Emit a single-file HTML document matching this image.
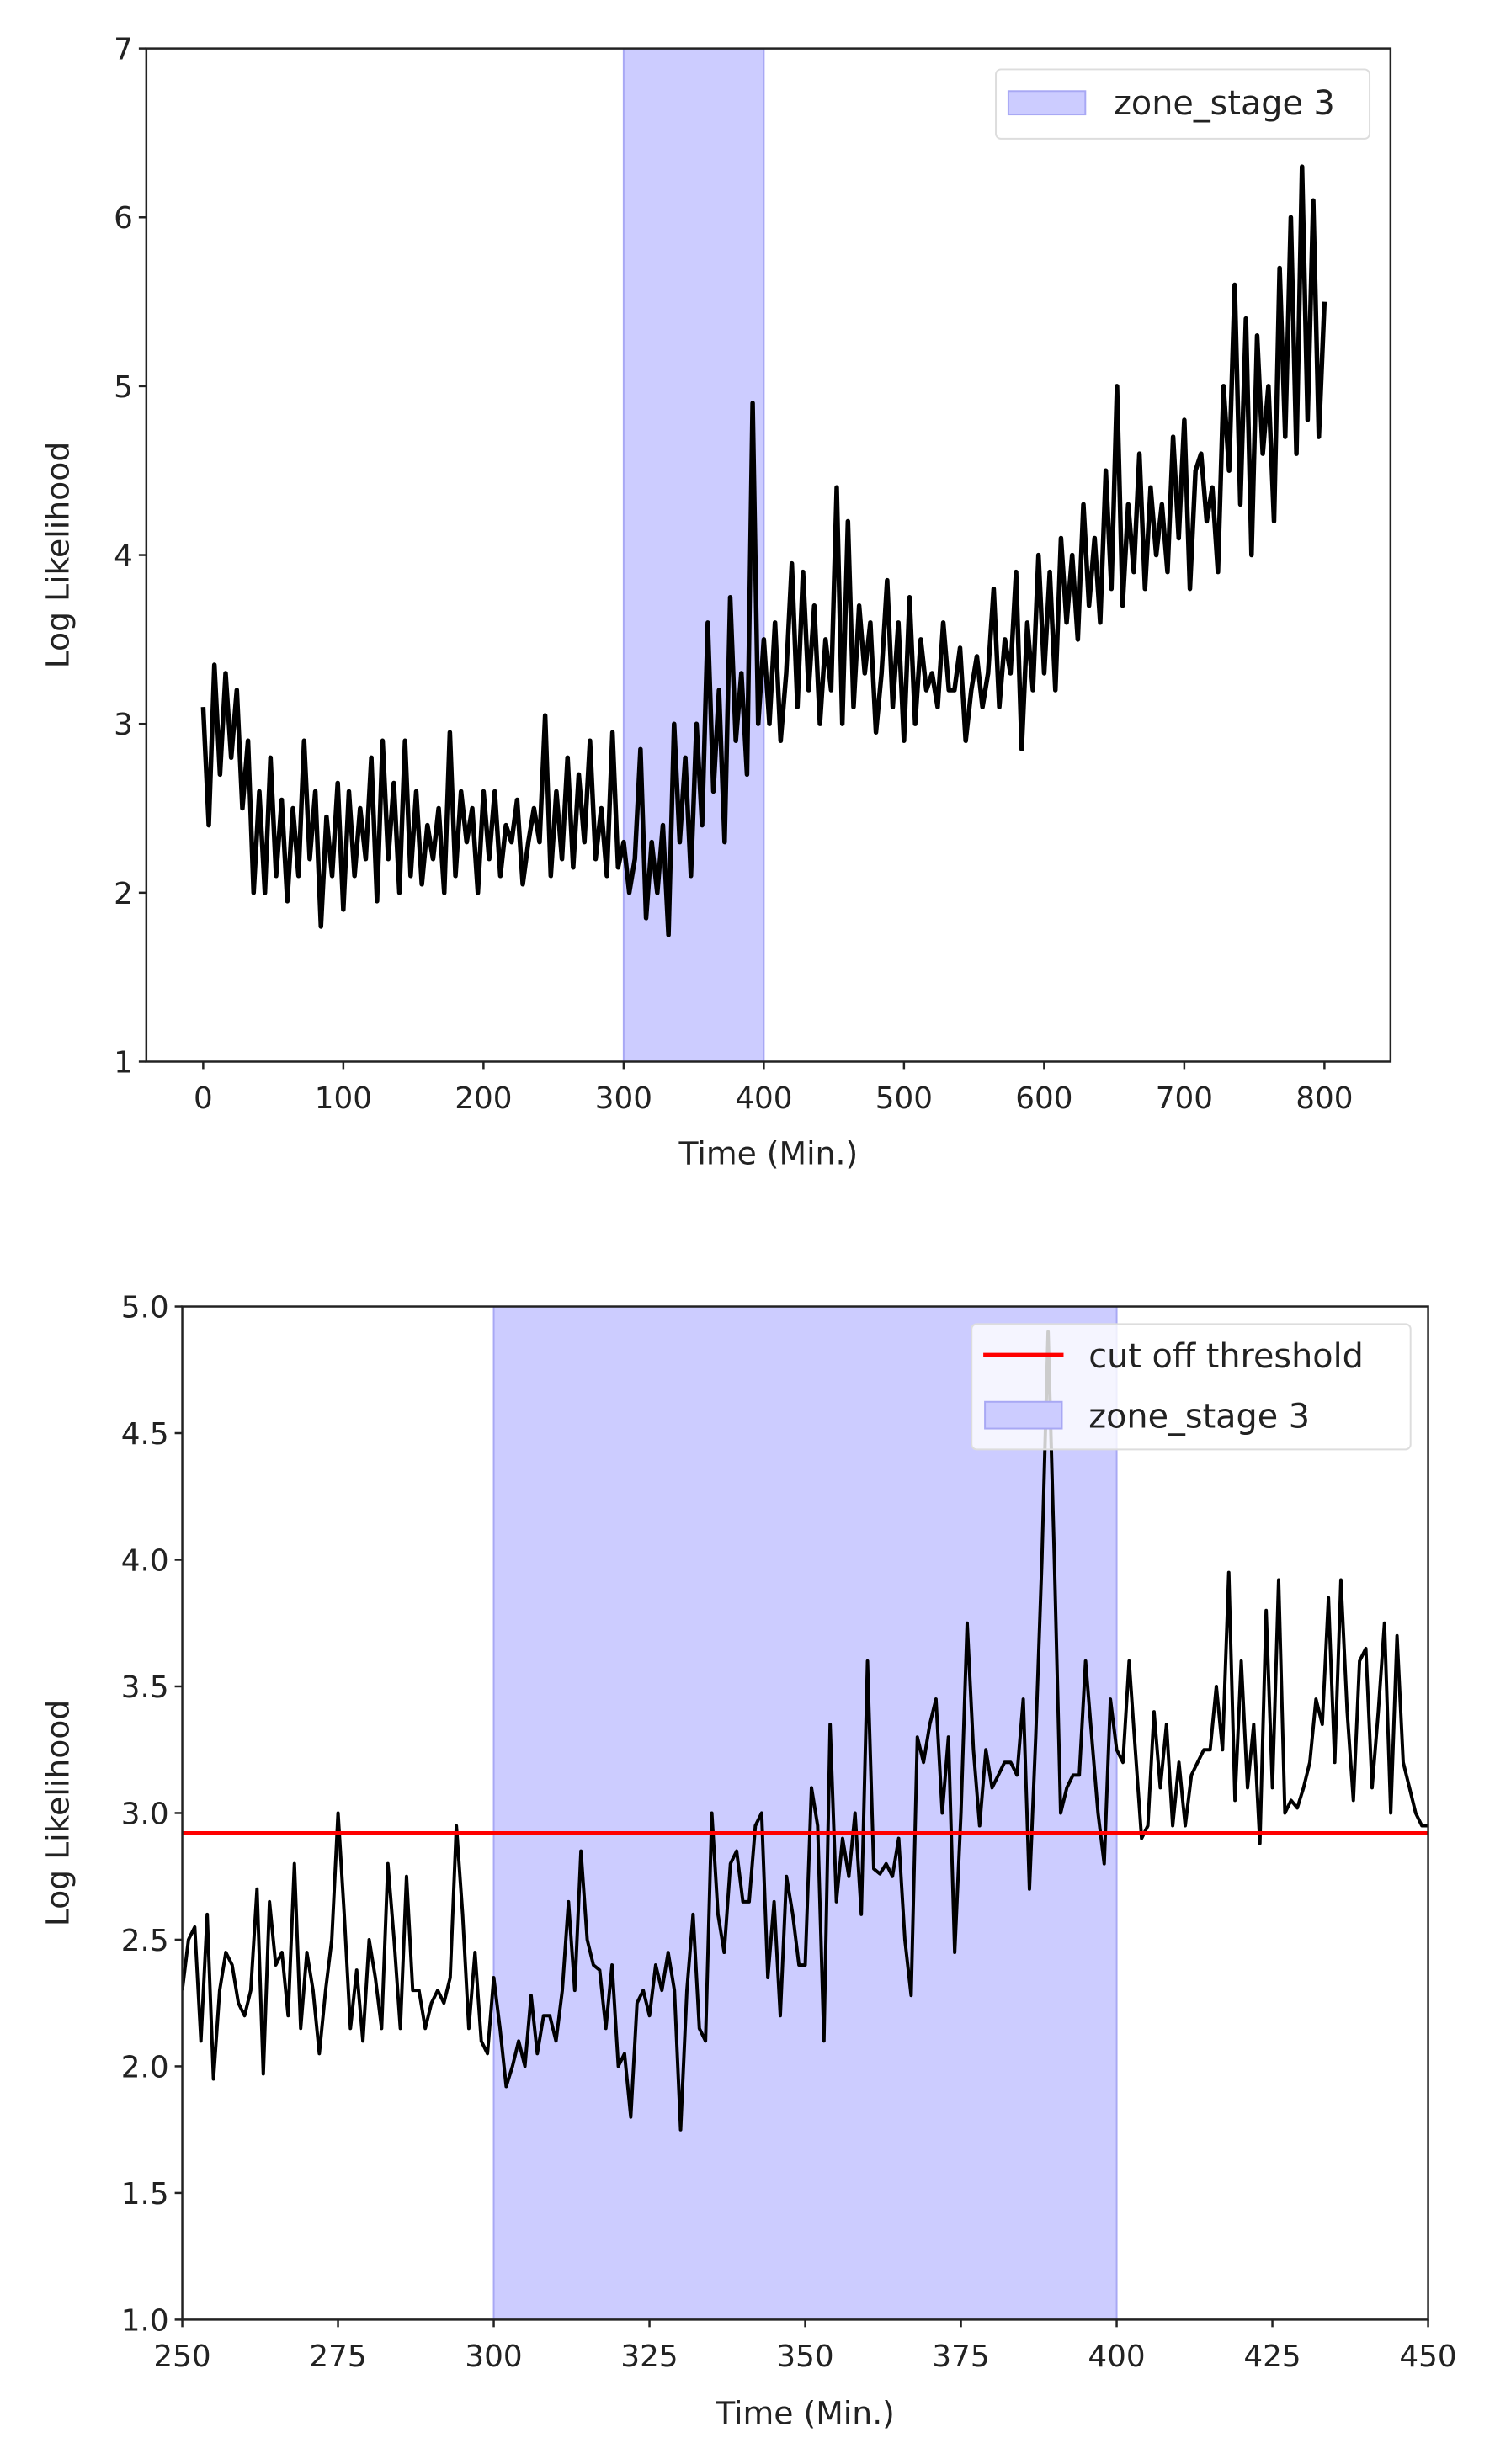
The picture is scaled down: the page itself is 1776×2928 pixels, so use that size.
<!DOCTYPE html>
<html><head><meta charset="utf-8"><style>
html,body{margin:0;padding:0;background:#fff;}
svg{display:block;font-family:"DejaVu Sans","Liberation Sans",sans-serif;}
</style></head><body>
<svg id="fig" width="1776" height="2928" viewBox="0 0 1776 2928" xmlns="http://www.w3.org/2000/svg">
<g transform="scale(0.9933)">
<g id="top"></g>
<g id="bot"></g>
</g>
</svg>
<script>
const topValues = [3.1,2.4,3.35,2.7,3.3,2.8,
3.2,2.5,2.9,2.0,2.6,2.0,2.8,2.1,2.55,1.95,2.5,2.1,2.9,2.2,2.6,1.8,2.45,2.1,2.65,1.9,
2.6,2.1,2.5,2.2,2.8,1.95,2.9,2.2,2.65,2.0,2.9,2.1,2.6,2.05,2.4,2.2,2.5,2.0,2.95,2.1,2.6,2.3,2.5,2.0,2.6,
2.2,2.6,2.1,2.4,2.3,2.55,2.05,2.3,2.5,2.3,3.05,2.1,2.6,2.2,2.8,2.15,2.7,2.3,2.9,2.2,2.5,2.1,2.95,2.15,2.3,
2.0,2.2,2.85,1.85,2.3,2.0,2.4,1.75,3.0,2.3,2.8,2.1,3.0,2.4,3.6,2.6,3.2,2.3,3.75,2.9,3.3,2.7,4.9,3.0,3.5,
3.0,3.6,2.9,3.3,3.95,3.1,3.9,3.2,3.7,3.0,3.5,3.2,4.4,3.0,4.2,3.1,3.7,3.3,3.6,2.95,3.3,3.85,3.1,3.6,2.9,
3.75,3.0,3.5,3.2,3.3,3.1,3.6,3.2,3.2,3.45,2.9,3.2,3.4,3.1,3.3,3.8,3.1,3.5,3.3,3.9,2.85,3.6,3.2,4.0,3.3,
3.9,3.2,4.1,3.6,4.0,3.5,4.3,3.7,4.1,3.6,4.5,3.8,5.0,3.7,4.3,3.9,4.6,3.8,4.4,4.0,4.3,3.9,4.7,4.1,4.8,
3.8,4.5,4.6,4.2,4.4,3.9,5.0,4.5,5.6,4.3,5.4,4.0,5.3,4.6,5.0,4.2,5.7,4.7,6.0,4.6,6.3,4.8,6.1,4.7,5.5];
const topStart = 0, topStep = 4;
const topXTicks = [0,100,200,300,400,500,600,700,800];
const topYTicks = [1,2,3,4,5,6,7];
const zoneRange = [300,400];

const botValues = [2.3,2.5,2.55,2.1,2.6,1.95,2.3,2.45,2.4,2.25,2.2,2.3,2.7,1.97,2.65,2.4,2.45,2.2,2.8,2.15,
2.45,2.3,2.05,2.3,2.5,3.0,2.6,2.15,2.38,2.1,2.5,2.35,2.15,2.8,2.5,2.15,2.75,2.3,2.3,2.15,
2.25,2.3,2.25,2.35,2.95,2.6,2.15,2.45,2.1,2.05,2.35,2.15,1.92,2.0,2.1,2.0,2.28,2.05,2.2,2.2,
2.1,2.3,2.65,2.3,2.85,2.5,2.4,2.38,2.15,2.4,2.0,2.05,1.8,2.25,2.3,2.2,2.4,2.3,2.45,2.3,
1.75,2.3,2.6,2.15,2.1,3.0,2.6,2.45,2.8,2.85,2.65,2.65,2.95,3.0,2.35,2.65,2.2,2.75,2.6,2.4,
2.4,3.1,2.95,2.1,3.35,2.65,2.9,2.75,3.0,2.6,3.6,2.78,2.76,2.8,2.75,2.9,2.5,2.28,3.3,3.2,
3.35,3.45,3.0,3.3,2.45,3.0,3.75,3.25,2.95,3.25,3.1,3.15,3.2,3.2,3.15,3.45,2.7,3.3,4.0,4.9,
4.0,3.0,3.1,3.15,3.15,3.6,3.3,3.0,2.8,3.45,3.25,3.2,3.6,3.25,2.9,2.95,3.4,3.1,3.35,2.95,
3.2,2.95,3.15,3.2,3.25,3.25,3.5,3.25,3.95,3.05,3.6,3.1,3.35,2.88,3.8,3.1,3.92,3.0,3.05,3.02,
3.1,3.2,3.45,3.35,3.85,3.2,3.92,3.4,3.05,3.6,3.65,3.1,3.4,3.75,3.0,3.7,3.2,3.1,3.0,2.95,2.95];
const botStart = 250, botStep = 1;
const botXTicks = [250,275,300,325,350,375,400,425,450];
const botYTicks = [1.0,1.5,2.0,2.5,3.0,3.5,4.0,4.5,5.0];
const threshold = [2.92];

const NS="http://www.w3.org/2000/svg";
function mk(parent,tag,attrs,text){const e=document.createElementNS(NS,tag);for(const k in attrs)e.setAttribute(k,attrs[k]);if(text!==undefined)e.textContent=text;parent.appendChild(e);return e;}

function drawChart(g,cfg){
  const sx=v=>cfg.px0+(v-cfg.xmin)/(cfg.xmax-cfg.xmin)*(cfg.px1-cfg.px0);
  const sy=v=>cfg.py1-(v-cfg.ymin)/(cfg.ymax-cfg.ymin)*(cfg.py1-cfg.py0);
  const L=cfg.L,R=cfg.R,T=cfg.T,B=cfg.B;
  const clipId=cfg.id+'clip';
  const cp=mk(g,'clipPath',{id:clipId});mk(cp,'rect',{x:L,y:T,width:R-L,height:B-T});
  const zone=mk(g,'rect',{x:sx(zoneRange[0]),y:T,width:sx(zoneRange[1])-sx(zoneRange[0]),height:B-T,fill:'#ccccff',stroke:'#a8a8f4','stroke-width':2,'clip-path':'url(#'+clipId+')'});
  
  
  let d='';
  cfg.values.forEach((v,i)=>{d+=(i?'L':'M')+sx(cfg.start+i*cfg.step).toFixed(1)+','+sy(v).toFixed(1);});
  const line=mk(g,'path',{d:d,fill:'none',stroke:'#000','stroke-width':cfg.lw,'stroke-linejoin':'round','clip-path':'url(#'+clipId+')'});
  
  
  if(cfg.thr){
    const th=mk(g,'line',{x1:L,x2:R,y1:sy(threshold[0]),y2:sy(threshold[0]),stroke:'#ff0000','stroke-width':5});
    
    
  }
  const frame=mk(g,'rect',{x:L,y:T,width:R-L,height:B-T,fill:'none',stroke:'#222','stroke-width':2.5});
  
  
  cfg.xticks.forEach(t=>{
    mk(g,'line',{x1:sx(t),x2:sx(t),y1:B,y2:B+9,stroke:'#222','stroke-width':2.5});
    const tx=mk(g,'text',{x:sx(t),y:B+56,'text-anchor':'middle','font-size':36,fill:'#222'},String(t));
    
    
  });
  cfg.yticks.forEach(t=>{
    mk(g,'line',{x1:L-9,x2:L,y1:sy(t),y2:sy(t),stroke:'#222','stroke-width':2.5});
    const ty=mk(g,'text',{x:L-16,y:sy(t)+13,'text-anchor':'end','font-size':36,fill:'#222'},cfg.yfmt(t));
    
    
  });
  const xl=mk(g,'text',{x:(L+R)/2,y:cfg.xlabY,'text-anchor':'middle','font-size':38,fill:'#222'},'Time (Min.)');
  
  
  const yl=mk(g,'text',{x:0,y:0,'text-anchor':'middle','font-size':38,fill:'#222',transform:'translate('+cfg.ylabX+','+((T+B)/2)+') rotate(-90)'},'Log Likelihood');
  
  
}

const topG=document.getElementById('top');
drawChart(topG,{id:'t',L:175,R:1663,T:58,B:1270,px0:243,px1:1584,xmin:0,xmax:800,py0:58,py1:1270,ymin:1,ymax:7,
  values:topValues,start:topStart,step:topStep,xticks:topXTicks,yticks:topYTicks,yfmt:t=>String(t),lw:5.5,
  xlabY:1393,ylabX:82,thr:false});
const botG=document.getElementById('bot');
drawChart(botG,{id:'b',L:218,R:1708,T:1563,B:2775,px0:218,px1:1708,xmin:250,xmax:450,py0:1563,py1:2775,ymin:1,ymax:5,
  values:botValues,start:botStart,step:botStep,xticks:botXTicks,yticks:botYTicks,yfmt:t=>t.toFixed(1),lw:4,
  xlabY:2900,ylabX:82,thr:true});

const lg1=mk(topG,'g',{});


mk(lg1,'rect',{x:1191,y:83,width:447,height:83,rx:6,fill:'#fff','fill-opacity':0.85,stroke:'#ddd','stroke-width':2});
mk(lg1,'rect',{x:1206,y:109,width:92,height:28,fill:'#ccccff',stroke:'#a8a8f4','stroke-width':2});
mk(lg1,'text',{x:1332,y:137,'font-size':40,fill:'#222'},'zone_stage 3');

const lg2=mk(botG,'g',{});


mk(lg2,'rect',{x:1162,y:1584,width:525,height:150,rx:6,fill:'#fff','fill-opacity':0.8,stroke:'#ddd','stroke-width':2});
mk(lg2,'line',{x1:1176,x2:1272,y1:1621,y2:1621,stroke:'#ff0000','stroke-width':5});
mk(lg2,'text',{x:1302,y:1636,'font-size':40,fill:'#222'},'cut off threshold');
mk(lg2,'rect',{x:1178,y:1677,width:92,height:32,fill:'#ccccff',stroke:'#a8a8f4','stroke-width':2});
mk(lg2,'text',{x:1302,y:1708,'font-size':40,fill:'#222'},'zone_stage 3');
</script>
</body></html>
